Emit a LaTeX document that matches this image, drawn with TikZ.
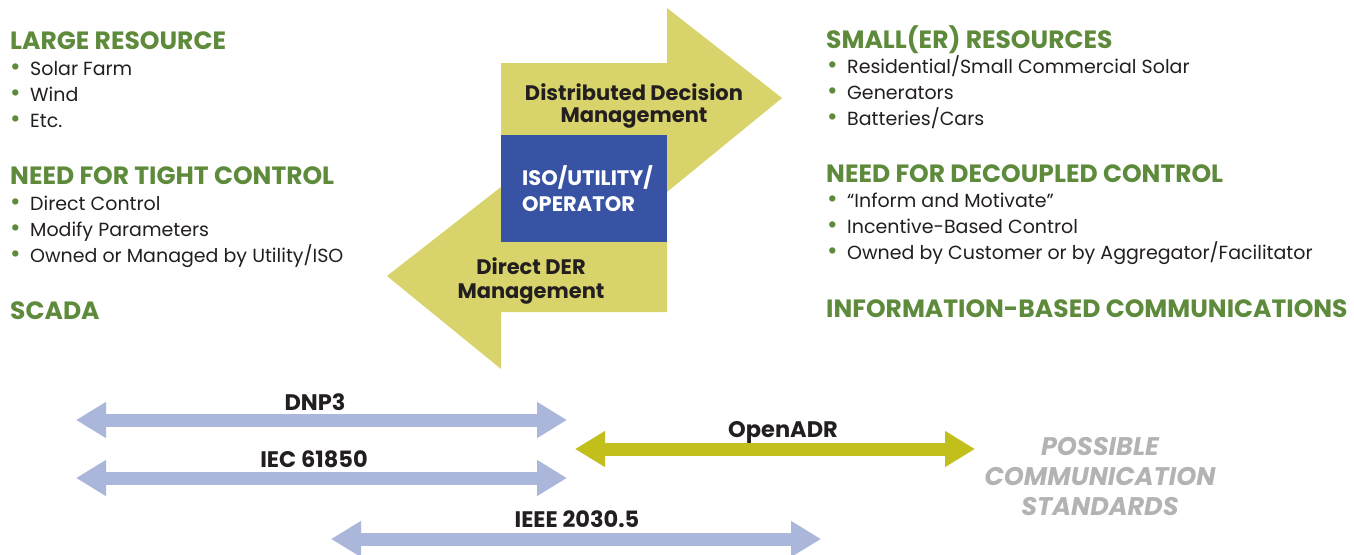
\documentclass[tikz,border=0pt]{standalone}
\usepackage{fontspec}
\setmainfont{Poppins}
\usepackage{xcolor}
\usepackage{graphicx}
\usetikzlibrary{arrows.meta}

\definecolor{leaf}{HTML}{5E8B3B}
\definecolor{ink}{HTML}{231F20}
\definecolor{khaki}{HTML}{D8D46B}
\definecolor{isoblue}{HTML}{3953A4}
\definecolor{lilac}{HTML}{AAB6DA}
\definecolor{adrolive}{HTML}{C2BE1C}
\definecolor{stdgray}{HTML}{B3B3B3}

% bullet line: green dot, then the text
\newcommand{\itm}[1]{\makebox[20pt][l]{\textcolor{leaf}{\raisebox{-0.8pt}{\scalebox{1.35}{\textbullet}}}}#1}

\begin{document}
\begin{tikzpicture}[x=1pt, y=-1pt,
    heading/.style={anchor=base west, inner sep=0pt, text=leaf, font=\fontsize{25}{25}\selectfont\bfseries},
    item/.style={anchor=base west, inner sep=0pt, text=ink, font=\fontsize{19}{19}\selectfont},
    mid/.style={anchor=base, inner sep=0pt, text=ink, font=\fontsize{21}{21}\selectfont\bfseries},
    std/.style={anchor=base, inner sep=0pt, text=ink, font=\fontsize{22.5}{22.5}\selectfont\bfseries},
    possible/.style={anchor=base, inner sep=0pt, text=stdgray, font=\fontsize{25.5}{25.5}\selectfont\bfseries\itshape},
    stdarrow/.style={line width=13pt, {Triangle[length=30pt,width=34pt]}-{Triangle[length=30pt,width=34pt]}}]
      % \draw[help lines, gray!50, very thin] (0,0) grid[step=50] (1354,554);
      \useasboundingbox (0,0) rectangle (1354,554);
      \fill[white] (0,0) rectangle (1354,554);

      % two opposed arrows with the operator in between
      \fill[khaki] (501,63) -- (667,63) -- (667,8) -- (782,98) -- (667,192) -- (667,312)
        -- (501,312) -- (501,369) -- (387,276) -- (501,187) -- cycle;
      \fill[isoblue] (501,135) rectangle (667,242);

      \node[mid] (dd1) at (634,100) {Distributed Decision};
      \node[mid] (dd2) at (634,122) {Management};
      \node[mid, anchor=base west, text=white, font=\fontsize{21}{21}\selectfont\bfseries] (iso1) at (522,185) {ISO/UTILITY/};
      \node[mid, anchor=base west, text=white, font=\fontsize{21}{21}\selectfont\bfseries] (iso2) at (522,211) {OPERATOR};
      \node[mid] (der1) at (531,274) {Direct DER};
      \node[mid] (der2) at (531,298) {Management};

      % left column
      \node[heading] (large) at (10,49) {LARGE RESOURCE};
      \node[item] (l1) at (10,75) {\itm{Solar Farm}};
      \node[item] (l2) at (10,101) {\itm{Wind}};
      \node[item] (l3) at (10,127) {\itm{Etc.}};
      \node[heading] (tight) at (10,184) {NEED FOR TIGHT CONTROL};
      \node[item] (t1) at (10,210) {\itm{Direct Control}};
      \node[item] (t2) at (10,236) {\itm{Modify Parameters}};
      \node[item] (t3) at (10,262) {\itm{Owned or Managed by Utility/ISO}};
      \node[heading] (scada) at (10,319) {SCADA};

      % right column
      \node[heading] (small) at (826,48) {SMALL(ER) RESOURCES};
      \node[item] (s1) at (827,73) {\itm{Residential/Small Commercial Solar}};
      \node[item] (s2) at (827,99) {\itm{Generators}};
      \node[item] (s3) at (827,125) {\itm{Batteries/Cars}};
      \node[heading] (decoupled) at (826,182) {NEED FOR DECOUPLED CONTROL};
      \node[item] (d1) at (827,207) {\itm{“Inform and Motivate”}};
      \node[item] (d2) at (827,233) {\itm{Incentive-Based Control}};
      \node[item] (d3) at (827,259) {\itm{Owned by Customer or by Aggregator/Facilitator}};
      \node[heading] (info) at (826,317) {INFORMATION-BASED COMMUNICATIONS};

      % communication standards
      \coordinate (dnpL) at (76,420);
      \coordinate (dnpR) at (567,420);
      \coordinate (iecL) at (76,478);
      \coordinate (iecR) at (567,478);
      \coordinate (ieeeL) at (331,539);
      \coordinate (ieeeR) at (821,539);
      \coordinate (adrL) at (575,449);
      \coordinate (adrR) at (975,449);
      \draw[stdarrow, lilac] (dnpL) -- (dnpR);
      \draw[stdarrow, lilac] (iecL) -- (iecR);
      \draw[stdarrow, lilac] (ieeeL) -- (ieeeR);
      \draw[stdarrow, adrolive] (adrL) -- (adrR);
      \node[std] (dnp) at (315,410) {DNP3};
      \node[std] (iec) at (314,467) {IEC 61850};
      \node[std] (ieee) at (577,527) {IEEE 2030.5};
      \node[std] (adr) at (783,437) {OpenADR};

      \node[possible] (pos1) at (1100,455) {POSSIBLE};
      \node[possible] (pos2) at (1100,485) {COMMUNICATION};
      \node[possible] (pos3) at (1100,515) {STANDARDS};
    \end{tikzpicture}
\end{document}
